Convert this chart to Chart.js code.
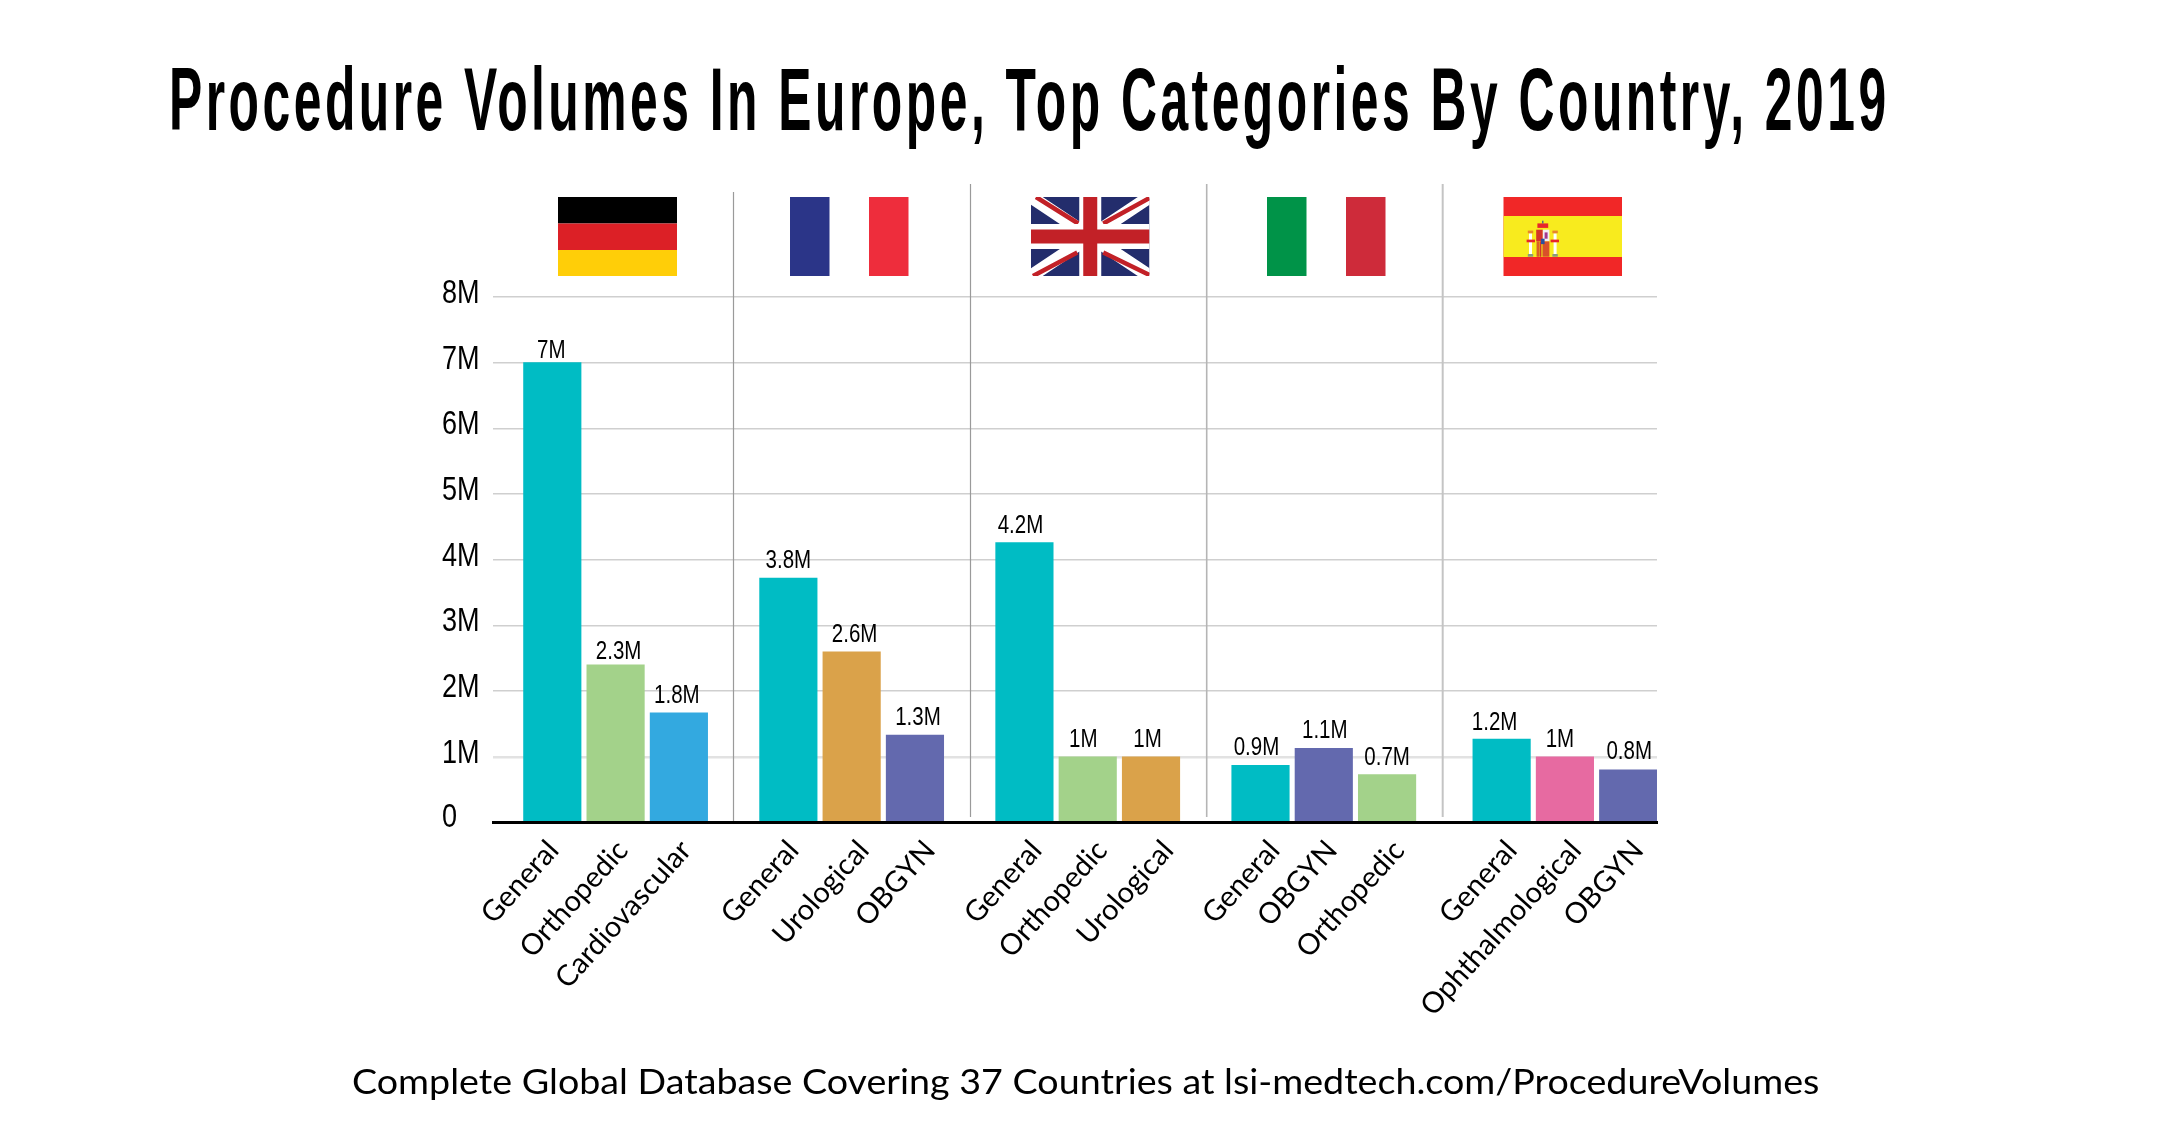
<!DOCTYPE html>
<html>
<head>
<meta charset="utf-8">
<script src="https://cdn.jsdelivr.net/npm/chart.js@4/dist/chart.umd.min.js"></script>
<style>
html,body{margin:0;padding:0;background:#fff;overflow:hidden}
#wrap{position:relative;width:2167px;height:1133px}
canvas{position:absolute;left:0;top:0}
#title{position:absolute;left:169px;top:45px;margin:0;font:700 89px/108px "Liberation Sans",sans-serif;color:#000;white-space:nowrap;transform-origin:0 0}
#foot{position:absolute;left:352px;top:1056.5px;font:400 35px/46px Lato,sans-serif;color:#000;white-space:nowrap;transform-origin:0 0}
</style>
</head>
<body>
<div id="wrap">
<canvas id="c" width="2167" height="1133"></canvas>
<h1 id="title">Procedure Volumes In Europe, Top Categories By Country, 2019</h1>
<div id="foot">Complete Global Database Covering 37 Countries at lsi-medtech.com/ProcedureVolumes</div>
</div>
<script>
const countries = ['Germany','France','UK','Italy','Spain'];
const germanyCategories = ['General','Orthopedic','Cardiovascular'];
const franceCategories  = ['General','Urological','OBGYN'];
const ukCategories      = ['General','Orthopedic','Urological'];
const italyCategories   = ['General','OBGYN','Orthopedic'];
const spainCategories   = ['General','Ophthalmological','OBGYN'];
const germanyValues = [7.0,2.4,1.67];
const franceValues  = [3.72,2.6,1.33];
const ukValues      = [4.26,1.0,1.0];
const italyValues   = [0.87,1.13,0.73];
const spainValues   = [1.27,1.0,0.8];
const germanyLabels = ['7M','2.3M','1.8M'];
const franceLabels  = ['3.8M','2.6M','1.3M'];
const ukLabels      = ['4.2M','1M','1M'];
const italyLabels   = ['0.9M','1.1M','0.7M'];
const spainLabels   = ['1.2M','1M','0.8M'];
const yTicks = ['0','1M','2M','3M','4M','5M','6M','7M','8M'];

const palette = {General:'#00BCC4',Orthopedic:'#A3D28A',Cardiovascular:'#33A9E0',Urological:'#DAA24A',OBGYN:'#6369AE',Ophthalmological:'#E76AA1'};

// layout of the slots along the x axis (one unit = one bar pitch)
const PITCH = 63.3;
const groupGaps = [0,0.73,0.73,0.73,0.81];
// hand placement of the rotated tick labels and the value labels, in pixels
const tickNudge = [1,7,7, 5,12,15, 12,14,17, 14,8,12, 10,11,10];
const labelNudgeX = [-1,3,-2, 0,3,3, -4,-4.5,-3.5, -4,1,0, -7,-5,1];
const labelGap = [4.3,5.7,10, 10,10,10, 10,10,10, 10.5,10,9.5, 9,10,11];

const allCats = [germanyCategories,franceCategories,ukCategories,italyCategories,spainCategories];
const allVals = [germanyValues,franceValues,ukValues,italyValues,spainValues];
const allLbls = [germanyLabels,franceLabels,ukLabels,italyLabels,spainLabels];
const points=[],colors=[],names=[],texts=[];
let slot=0;
countries.forEach((_,g)=>{
  slot+=groupGaps[g];
  allCats[g].forEach((cat,i)=>{
    points.push({x:slot,y:allVals[g][i]});
    colors.push(palette[cat]);names.push(cat);texts.push(allLbls[g][i]);
    slot+=1;
  });
});

function rect(c,x,y,w,h,col){c.fillStyle=col;c.fillRect(x,y,w,h);}
function squeezed(c,text,x,y,align,sx){
  c.save();c.translate(x,y);c.scale(sx,1);c.textAlign=align;c.textBaseline='alphabetic';c.fillText(text,0,0);c.restore();
}
function drawUK(c,x,y,w,h){
  c.save();c.beginPath();c.rect(x,y,w,h);c.clip();
  rect(c,x,y,w,h,'#232D6C');
  const cx=x+w/2,cy=y+h/2;
  c.strokeStyle='#fff';c.lineWidth=13;
  c.beginPath();c.moveTo(x,y);c.lineTo(x+w,y+h);c.moveTo(x+w,y);c.lineTo(x,y+h);c.stroke();
  c.strokeStyle='#C22127';c.lineWidth=4.5;
  c.beginPath();
  c.moveTo(x+5,y);c.lineTo(cx-12,cy-13);
  c.moveTo(x+w,y+1);c.lineTo(cx+13,cy-13);
  c.moveTo(x+2,y+h);c.lineTo(cx-13,cy+16);
  c.moveTo(x+w,y+h-1);c.lineTo(cx+13,cy+16);
  c.stroke();
  rect(c,cx-11,y,22,h,'#fff');rect(c,x,cy-12.5,w,25,'#fff');
  rect(c,cx-7,y,14,h,'#C22127');rect(c,x,cy-7,w,14,'#C22127');
  c.restore();
}
function drawArms(c,x,y){
  c.save();c.translate(x,y);c.scale(.6,.9);
  rect(c,24,6,18,5,'#E8262A');rect(c,32,3,2,3,'#2B4F9E');
  rect(c,10,17,5,24,'#fff');rect(c,51,17,5,24,'#fff');
  rect(c,8,14,9,3,'#E8862A');rect(c,49,14,9,3,'#E8862A');
  rect(c,8,40,9,3,'#8a9a7a');rect(c,49,40,9,3,'#8a9a7a');
  rect(c,6,24,14,3,'#E8262A');rect(c,46,24,14,3,'#E8262A');
  rect(c,22,13,11,13,'#D4342A');rect(c,33,13,11,13,'#F3F0F4');
  rect(c,36,16,5,7,'#A3398F');
  rect(c,22,26,11,17,'#E0A020');
  rect(c,24,26,2,17,'#D4342A');rect(c,28,26,2,17,'#D4342A');
  rect(c,33,26,11,17,'#D9502A');rect(c,30,23,6,6,'#2B4F9E');
  c.restore();
}
const decor={
  id:'decor',
  beforeDatasetsDraw(chart){
    const c=chart.ctx;c.save();
    // flags
    rect(c,558,197,119,26.5,'#000');rect(c,558,223.5,119,26.5,'#DC2026');rect(c,558,250,119,26,'#FFCE08');
    rect(c,790,197,39.5,79,'#2B3588');rect(c,869,197,39.5,79,'#EE2D3C');
    drawUK(c,1031,197,118.5,79);
    rect(c,1267,197,39.5,79,'#009348');rect(c,1346,197,39.5,79,'#CE2B3A');
    rect(c,1503.5,197,118.5,79,'#F12727');rect(c,1503.5,216,118.5,41,'#F8EB1E');
    drawArms(c,1523,218);
    // dividers between countries
    const div=[[733.5,192,824,1.2,'#9a9a9a'],[970.5,184,817,1.2,'#9a9a9a'],[1206.7,184,817,1.6,'#b5b5b5'],[1442.7,184,817,2,'#c4c4c4']];
    div.forEach(d=>{c.strokeStyle=d[4];c.lineWidth=d[3];c.beginPath();c.moveTo(d[0],d[1]);c.lineTo(d[0],d[2]);c.stroke();});
    // y tick labels
    const ys=chart.scales.y;
    c.font='33px "Liberation Sans"';c.fillStyle='#000';
    yTicks.forEach((t,v)=>squeezed(c,t,ys.left,ys.getPixelForValue(v)+(v===0?4:6),'left',.82));
    c.restore();
  },
  afterDatasetsDraw(chart){
    const c=chart.ctx,meta=chart.getDatasetMeta(0);
    c.save();c.font='25px "Liberation Sans"';c.fillStyle='#000';
    meta.data.forEach((b,i)=>squeezed(c,texts[i],b.x+labelNudgeX[i],b.y-labelGap[i],'center',.82));
    c.restore();
  }
};
new Chart(document.getElementById('c'),{
  type:'bar',
  data:{datasets:[{data:points,backgroundColor:colors,barThickness:57.5,borderWidth:0}]},
  plugins:[decor],
  options:{
    responsive:false,animation:false,
    layout:{padding:{left:442,right:510,top:297,bottom:70.5}},
    plugins:{legend:{display:false},tooltip:{enabled:false},title:{display:false}},
    scales:{
      x:{type:'linear',offset:false,bounds:'data',min:-0.937,max:17.455,
        grid:{display:false,drawTicks:false},
        border:{display:true,color:'#000',width:3,z:2},
        afterBuildTicks(s){s.ticks=points.map((p,i)=>({value:p.x+tickNudge[i]/PITCH}));},
        afterFit(s){s.height=240;},
        ticks:{autoSkip:false,minRotation:48,maxRotation:48,padding:11,color:'#000',
          font:{family:'Lato',size:29},
          callback(v,i){return names[i];}}
      },
      y:{min:0,max:8,
        grid:{color:c=>c.tick.value===1?'#e2e2e2':'#cfcfcf',lineWidth:c=>c.tick.value===1?2.5:1.6,drawTicks:false},
        border:{display:false},
        afterFit(s){s.width=51;},
        ticks:{stepSize:1,display:false}
      }
    }
  }
});
function layoutText(){
  const t=document.getElementById('title'),f=document.getElementById('foot');
  const sx=.56,target=1717;
  t.style.letterSpacing='0px';t.style.transform='none';
  const ls=(target/sx-t.scrollWidth)/(t.textContent.length-1);
  t.style.letterSpacing=ls+'px';t.style.transform='scaleX('+sx+')';
  f.style.transform='none';
  f.style.transform='scaleX('+(1467/f.scrollWidth)+')';
}
layoutText();
document.fonts.ready.then(layoutText);
</script>
</body>
</html>
